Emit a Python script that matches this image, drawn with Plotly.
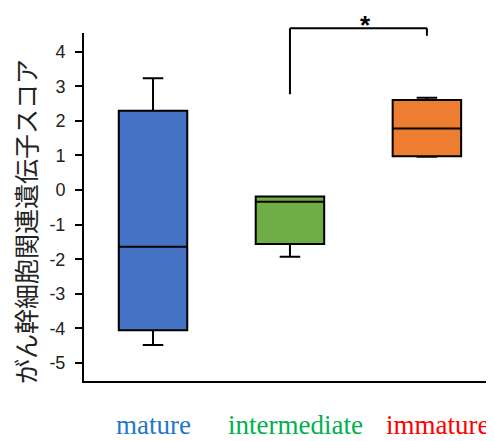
import plotly.graph_objects as go

categories = ["mature", "intermediate", "immature"]
label_colors = ["#1F78C8", "#00B050", "#FF0000"]
fill_colors = ["#4472C4", "#70AD47", "#ED7D31"]
q1 = [-4.05, -1.56, 0.98]
median = [-1.64, -0.34, 1.78]
q3 = [2.29, -0.19, 2.60]
lower = [-4.48, -1.93, 0.96]
upper = [3.23, -0.19, 2.67]
y_ticks = [4, 3, 2, 1, 0, -1, -2, -3, -4, -5]
ylabel = "がん幹細胞関連遺伝子スコア"
# significance bracket between intermediate (1) and immature (2)
bracket_x = [1, 2]
bracket_y = [2.77, 4.68, 4.46]  # left foot, top, right foot (data units)

YMIN, YMAX = -5.52, 4.54

def p(v):
    return (v - YMIN) / (YMAX - YMIN)

fig = go.Figure()
for i, c in enumerate(categories):
    fig.add_trace(go.Box(
        x=[i], q1=[q1[i]], median=[median[i]], q3=[q3[i]],
        lowerfence=[lower[i]], upperfence=[upper[i]],
        width=0.5, whiskerwidth=0.3,
        fillcolor=fill_colors[i],
        line=dict(color="black", width=2),
        boxpoints=False, name=c, showlegend=False, hoverinfo="skip",
    ))

# bracket
fig.add_shape(type="line", xref="x", yref="paper",
              x0=bracket_x[0], x1=bracket_x[0], y0=p(bracket_y[0]), y1=p(bracket_y[1]),
              line=dict(color="black", width=2))
fig.add_shape(type="line", xref="x", yref="paper",
              x0=bracket_x[0], x1=bracket_x[1], y0=p(bracket_y[1]), y1=p(bracket_y[1]),
              line=dict(color="black", width=2))
fig.add_shape(type="line", xref="x", yref="paper",
              x0=bracket_x[1], x1=bracket_x[1], y0=p(bracket_y[1]), y1=p(bracket_y[2]),
              line=dict(color="black", width=2))
fig.add_annotation(x=1.55, y=1 + 25 / 348, xref="x", yref="paper", text="<b>*</b>",
                   showarrow=False, font=dict(size=26, color="black", family="Liberation Sans"),
                   xanchor="center", yanchor="top")

# category labels
label_x = [0, 1.04, 2.08]
for i, c in enumerate(categories):
    fig.add_annotation(x=label_x[i], y=-0.125, xref="x", yref="paper", text=c,
                       showarrow=False, xanchor="center", yanchor="middle",
                       font=dict(size=27, color=label_colors[i],
                                 family="Times New Roman, Liberation Serif, DejaVu Serif, serif"))

# y title
fig.add_annotation(x=-0.144, y=0.46, xref="paper", yref="paper", text=ylabel,
                   textangle=-90, showarrow=False, xanchor="center", yanchor="middle",
                   font=dict(size=25, color="#222222", family="Noto Sans CJK JP"))

fig.update_layout(
    width=494, height=441,
    margin=dict(l=76, r=8, t=25, b=68),
    plot_bgcolor="white", paper_bgcolor="white",
    boxmode="overlay",
    xaxis=dict(range=[-0.504, 2.49], showgrid=False, zeroline=False,
               showline=True, linecolor="black", linewidth=2,
               showticklabels=False, ticks=""),
    yaxis=dict(range=[YMIN, YMAX], showgrid=False, zeroline=False,
               showline=True, linecolor="black", linewidth=2,
               tickvals=y_ticks, ticktext=[str(t) for t in y_ticks],
               ticks="outside", ticklen=7, tickwidth=2, tickcolor="black",
               ticklabelstandoff=6,
               tickfont=dict(size=18, color="#222222", family="Liberation Sans")),
)

fig.write_html("out.html")
